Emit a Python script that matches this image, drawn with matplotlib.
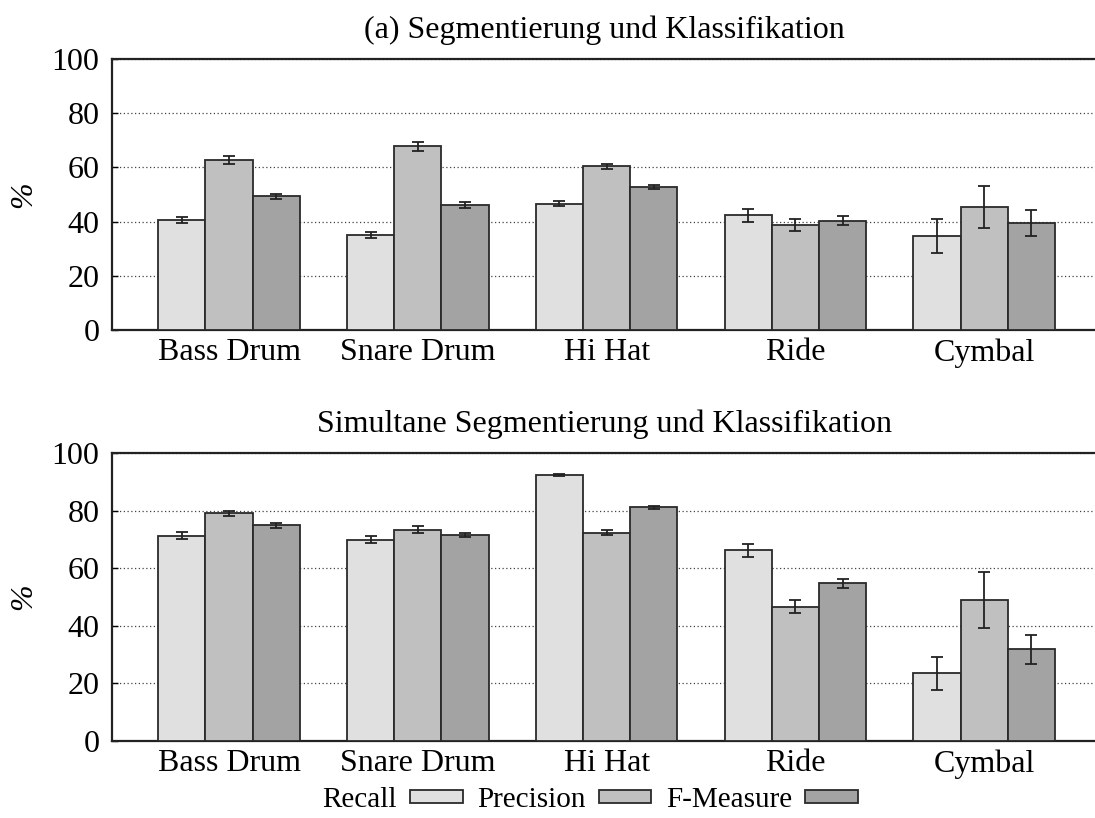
import numpy as np
import matplotlib
matplotlib.use("Agg")
import matplotlib.pyplot as plt

plt.rcParams['font.family'] = ['Liberation Serif', 'DejaVu Serif']

instruments = ["Bass Drum", "Snare Drum", "Hi Hat", "Ride", "Cymbal"]
series = ["Recall", "Precision", "F-Measure"]
colors = ["#e0e0e0", "#c0c0c0", "#a3a3a3"]

# (a) Segmentierung und Klassifikation
top_recall = [40.6, 35.0, 46.6, 42.3, 34.8]
top_precision = [62.8, 67.8, 60.4, 38.6, 45.3]
top_fmeasure = [49.3, 46.1, 52.8, 40.3, 39.4]
top_recall_err = [1.2, 1.0, 1.0, 2.5, 6.3]
top_precision_err = [1.5, 1.6, 1.0, 2.2, 7.7]
top_fmeasure_err = [0.9, 1.0, 0.7, 1.7, 4.9]

# Simultane Segmentierung und Klassifikation
bot_recall = [71.3, 69.9, 92.4, 66.2, 23.5]
bot_precision = [79.0, 73.4, 72.3, 46.7, 48.9]
bot_fmeasure = [74.9, 71.5, 81.1, 54.7, 31.8]
bot_recall_err = [1.15, 1.15, 0.4, 2.3, 5.65]
bot_precision_err = [1.0, 1.1, 0.8, 2.1, 9.7]
bot_fmeasure_err = [0.8, 0.75, 0.4, 1.6, 5.1]

fs = 23

fig = plt.figure(figsize=(10.95, 8.18), dpi=100)
# right edge pushed just past the canvas (no right frame line in the original)
ax1 = fig.add_axes([0.1023, 0.5966, 0.9, 0.3313])
ax2 = fig.add_axes([0.1023, 0.0941, 0.9, 0.3521])

x = np.arange(len(instruments))
w = 0.25


def draw(ax, vals, errs, title):
    handles = []
    for i, (v, e) in enumerate(zip(vals, errs)):
        b = ax.bar(x + (i - 1) * w, v, w, color=colors[i], edgecolor="#2a2a2a",
                   linewidth=1.3, label=series[i], zorder=3)
        ax.errorbar(x + (i - 1) * w, v, yerr=e, fmt="none", ecolor="#222222",
                    elinewidth=1.3, capsize=4, capthick=1.3, zorder=4)
        handles.append(b)
    ax.set_xlim(-0.62, 4.6)
    ax.set_ylim(0, 100)
    ax.set_yticks([0, 20, 40, 60, 80, 100])
    ax.set_xticks(x)
    ax.set_xticklabels(instruments)
    ax.tick_params(axis="x", length=0, labelsize=fs, pad=6)
    ax.tick_params(axis="y", direction="in", length=4, labelsize=fs, width=1, pad=9)
    ax.yaxis.grid(True, linestyle=(0, (1, 2)), color="#444444", linewidth=0.9, zorder=0)
    ax.set_axisbelow(True)
    for s in ax.spines.values():
        s.set_linewidth(1.6)
        s.set_color("#222222")
    ax.set_ylabel("%", fontsize=fs, labelpad=10, style="italic")
    ax.set_title(title, fontsize=fs, pad=15)
    return handles


draw(ax1, [top_recall, top_precision, top_fmeasure],
     [top_recall_err, top_precision_err, top_fmeasure_err],
     "(a) Segmentierung und Klassifikation")
h = draw(ax2, [bot_recall, bot_precision, bot_fmeasure],
         [bot_recall_err, bot_precision_err, bot_fmeasure_err],
         "Simultane Segmentierung und Klassifikation")

fig.legend(h, series, loc="center", bbox_to_anchor=(0.539, 0.022), ncol=3,
           frameon=False, markerfirst=False, fontsize=21, handlelength=1.8,
           handleheight=0.35, handletextpad=0.45, columnspacing=0.5,
           borderpad=0.1)

fig.savefig("out.png", dpi=100)
